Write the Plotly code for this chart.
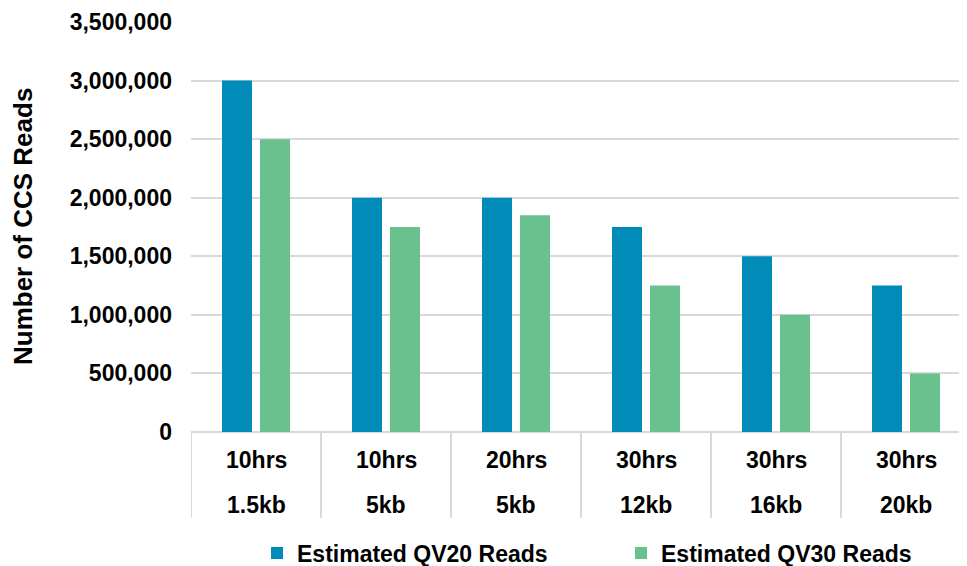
import plotly.graph_objects as go

run_time = ["10hrs", "10hrs", "20hrs", "30hrs", "30hrs", "30hrs"]
insert_size = ["1.5kb", "5kb", "5kb", "12kb", "16kb", "20kb"]
qv20_reads = [3000000, 2000000, 2000000, 1750000, 1500000, 1250000]
qv30_reads = [2500000, 1750000, 1850000, 1250000, 1000000, 500000]
series_names = ["Estimated QV20 Reads", "Estimated QV30 Reads"]
y_title = "Number of CCS Reads"

BLUE = "#008BB8"
GREEN = "#69C28D"
GRID = "#D9D9D9"
FONT = "Liberation Sans, Arial, sans-serif"
FS = 23

x_idx = list(range(len(run_time)))
CAT_PX = 130.0
BAR_W = 30 / CAT_PX
GAP = 8 / CAT_PX

fig = go.Figure()
fig.add_trace(go.Bar(x=x_idx, y=qv20_reads, name=series_names[0],
                     width=BAR_W, offset=-(BAR_W + GAP / 2),
                     marker=dict(color=BLUE, line=dict(width=0))))
fig.add_trace(go.Bar(x=x_idx, y=qv30_reads, name=series_names[1],
                     width=BAR_W, offset=GAP / 2,
                     marker=dict(color=GREEN, line=dict(width=0))))

# page body has an 8px margin; figure coordinates are offset accordingly
OFF = 8
W, H = 967, 566
ml, mr, mt, mb = 191 - OFF, 0, 22 - OFF, 566 - (432 - OFF)
plot_h = H - mt - mb
plot_w = W - ml - mr

annotations = []
for i in x_idx:
    annotations.append(dict(x=i, y=-(460 - 432) / plot_h, xref="x", yref="paper",
                            text=run_time[i], showarrow=False, yanchor="middle",
                            font=dict(size=FS, color="black", family=FONT, weight="bold")))
    annotations.append(dict(x=i, y=-(505 - 432) / plot_h, xref="x", yref="paper",
                            text=insert_size[i], showarrow=False, yanchor="middle",
                            font=dict(size=FS, color="black", family=FONT, weight="bold")))
annotations.append(dict(x=-(168) / plot_w, y=0.5, xref="paper", yref="paper",
                        text=y_title, textangle=-90, showarrow=False,
                        xanchor="center", yanchor="middle",
                        font=dict(size=26, color="black", family=FONT, weight="bold")))

shapes = []
for i in range(len(run_time)):
    shapes.append(dict(type="line", xref="x", yref="paper", x0=i - 0.5, x1=i - 0.5,
                       y0=0, y1=-(518 - 432) / plot_h, line=dict(color=GRID, width=2)))

fig.update_layout(
    template="none",
    width=W, height=H,
    margin=dict(l=ml, r=mr, t=mt, b=mb, autoexpand=False),
    paper_bgcolor="white", plot_bgcolor="white",
    font=dict(family=FONT, size=FS, color="black", weight="bold"),
    barmode="group",
    xaxis=dict(range=[-0.5, -0.5 + plot_w / CAT_PX], showticklabels=False, showgrid=False,
               zeroline=False, showline=False, ticks="", automargin=False),
    yaxis=dict(range=[0, 3500000], dtick=500000, tickformat=",d",
               showgrid=True, gridcolor=GRID, gridwidth=2,
               zeroline=True, zerolinecolor=GRID, zerolinewidth=2,
               showline=False, ticks="", ticklabelstandoff=18, automargin=False,
               tickfont=dict(size=FS, family=FONT, color="black", weight="bold")),
    legend=dict(orientation="h", xref="container", x=(257 - OFF) / W, xanchor="left",
                yref="container", y=(H - (553 - OFF)) / H, yanchor="middle", entrywidth=319,
                bgcolor="rgba(0,0,0,0)",
                font=dict(size=FS, family=FONT, color="black", weight="bold")),
    annotations=annotations,
    shapes=shapes,
)

fig.write_html("out.html")
